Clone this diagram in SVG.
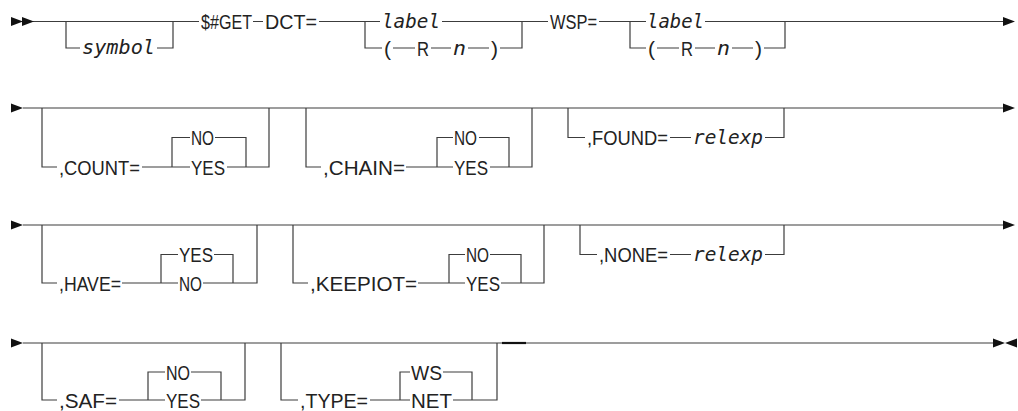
<svg xmlns="http://www.w3.org/2000/svg" xmlns:xlink="http://www.w3.org/1999/xlink" width="1018" height="411" viewBox="0 0 1018 411">
<style>
.ln{fill:none;stroke:#3c3c3c;stroke-width:1.2}
.thk{fill:none;stroke:#111;stroke-width:2.2}
.t{font-family:"Liberation Sans",Arial,sans-serif;font-size:20.5px;fill:#222}
.i{font-family:"DejaVu Sans Mono","Liberation Mono",monospace;font-style:italic;font-size:20px;fill:#222}
.ar{fill:#111}
</style>
<defs>
<polygon id="ra" points="0,-4.5 12,0 0,4.5"/>
<polygon id="la" points="12,-4.5 0,0 12,4.5"/>
</defs>
<rect width="1018" height="411" fill="#fff"/>
<g id="connectors">
<path class="ln" d="M33 21.5H199M253 21.5H263M319 21.5H380M442 21.5H548M599 21.5H646M705 21.5H1003"/>
<path class="ln" d="M66 21.5V48H80M157 48H173V21.5"/>
<path class="ln" d="M365 21.5V48H382M393 48H415M431 48H451M468 48H489M500 48H522V21.5"/>
<path class="ln" d="M630 21.5V48H646M657 48H679M695 48H715M732 48H753M764 48H785V21.5"/>
<path class="ln" d="M23 108H1003"/>
<path class="ln" d="M42 108V167H57M142 167H190M172 167V137.5H190M215 137.5H246V167M227 167H269V108"/>
<path class="ln" d="M306 108V167H321M406 167H453M437 167V137.5H453M479 137.5H509V167M490 167H532V108"/>
<path class="ln" d="M568 108V137.5H585M670 137.5H691M765 137.5H784V108"/>
<path class="ln" d="M23 225H1003"/>
<path class="ln" d="M42 225V283H57M122 283H178M161 283V254.5H178M214 254.5H233V283M203 283H257V225"/>
<path class="ln" d="M293 225V283H308M418 283H465M449 283V254.5H465M490 254.5H521V283M501 283H544V225"/>
<path class="ln" d="M580 225V254.5H597M670 254.5H691M765 254.5H784V225"/>
<path class="ln" d="M23 343H993"/>
<path class="ln" d="M42 343V400H57M119 400H165M148 400V372H165M191 372H221V400M201 400H245V343"/>
<path class="ln" d="M281 343V400H298M370 400H410M400 400V372H410M443 372H472V400M453 400H497V343"/>
<path class="thk" d="M502 343H526"/>
<use xlink:href="#ra" class="ar" x="11" y="21.5"/>
<use xlink:href="#ra" class="ar" x="22" y="21.5"/>
<use xlink:href="#ra" class="ar" x="1003" y="21.5"/>
<use xlink:href="#ra" class="ar" x="11" y="108"/>
<use xlink:href="#ra" class="ar" x="1003" y="108"/>
<use xlink:href="#ra" class="ar" x="11" y="225"/>
<use xlink:href="#ra" class="ar" x="1003" y="225"/>
<use xlink:href="#ra" class="ar" x="11" y="343"/>
<use xlink:href="#ra" class="ar" x="993" y="343"/>
<use xlink:href="#la" class="ar" x="1005" y="343"/>
</g>
<g id="symbol"><text class="i" x="82" y="54" textLength="73" lengthAdjust="spacingAndGlyphs">symbol</text></g>
<g id="get"><text class="t" x="201" y="28.8" textLength="51" lengthAdjust="spacingAndGlyphs">$#GET</text></g>
<g id="dct"><text class="t" x="265" y="28.8" textLength="52" lengthAdjust="spacingAndGlyphs">DCT=</text></g>
<g id="dct-label"><text class="i" x="382" y="28" textLength="58" lengthAdjust="spacingAndGlyphs">label</text></g>
<g id="dct-rn">
<text class="t" x="384" y="55.5" textLength="7" lengthAdjust="spacingAndGlyphs">(</text>
<text class="t" x="417" y="55.5" textLength="12" lengthAdjust="spacingAndGlyphs">R</text>
<text class="i" x="453" y="54.5" textLength="13" lengthAdjust="spacingAndGlyphs">n</text>
<text class="t" x="491" y="55.5" textLength="7" lengthAdjust="spacingAndGlyphs">)</text>
</g>
<g id="wsp"><text class="t" x="550" y="28.8" textLength="47" lengthAdjust="spacingAndGlyphs">WSP=</text></g>
<g id="wsp-label"><text class="i" x="647" y="28" textLength="57" lengthAdjust="spacingAndGlyphs">label</text></g>
<g id="wsp-rn">
<text class="t" x="648" y="55.5" textLength="7" lengthAdjust="spacingAndGlyphs">(</text>
<text class="t" x="681" y="55.5" textLength="12" lengthAdjust="spacingAndGlyphs">R</text>
<text class="i" x="717" y="54.5" textLength="13" lengthAdjust="spacingAndGlyphs">n</text>
<text class="t" x="755" y="55.5" textLength="7" lengthAdjust="spacingAndGlyphs">)</text>
</g>
<g id="count">
<text class="t" x="59" y="174.5" textLength="81" lengthAdjust="spacingAndGlyphs">,COUNT=</text>
<text class="t" x="191" y="145" textLength="23" lengthAdjust="spacingAndGlyphs">NO</text>
<text class="t" x="191" y="174.5" textLength="34" lengthAdjust="spacingAndGlyphs">YES</text>
</g>
<g id="chain">
<text class="t" x="323" y="174.5" textLength="82" lengthAdjust="spacingAndGlyphs">,CHAIN=</text>
<text class="t" x="454" y="145" textLength="23" lengthAdjust="spacingAndGlyphs">NO</text>
<text class="t" x="454" y="174.5" textLength="34" lengthAdjust="spacingAndGlyphs">YES</text>
</g>
<g id="found">
<text class="t" x="587" y="145" textLength="81" lengthAdjust="spacingAndGlyphs">,FOUND=</text>
<text class="i" x="693" y="144" textLength="70" lengthAdjust="spacingAndGlyphs">relexp</text>
</g>
<g id="have">
<text class="t" x="59" y="290.5" textLength="62" lengthAdjust="spacingAndGlyphs">,HAVE=</text>
<text class="t" x="179" y="262" textLength="34" lengthAdjust="spacingAndGlyphs">YES</text>
<text class="t" x="179" y="290.5" textLength="23" lengthAdjust="spacingAndGlyphs">NO</text>
</g>
<g id="keepiot">
<text class="t" x="310" y="290.5" textLength="107" lengthAdjust="spacingAndGlyphs">,KEEPIOT=</text>
<text class="t" x="466" y="262" textLength="23" lengthAdjust="spacingAndGlyphs">NO</text>
<text class="t" x="466" y="290.5" textLength="34" lengthAdjust="spacingAndGlyphs">YES</text>
</g>
<g id="none">
<text class="t" x="599" y="262" textLength="69" lengthAdjust="spacingAndGlyphs">,NONE=</text>
<text class="i" x="693" y="261" textLength="70" lengthAdjust="spacingAndGlyphs">relexp</text>
</g>
<g id="saf">
<text class="t" x="59" y="407.5" textLength="58" lengthAdjust="spacingAndGlyphs">,SAF=</text>
<text class="t" x="166" y="379.5" textLength="24" lengthAdjust="spacingAndGlyphs">NO</text>
<text class="t" x="166" y="407.5" textLength="34" lengthAdjust="spacingAndGlyphs">YES</text>
</g>
<g id="type">
<text class="t" x="300" y="407.5" textLength="68" lengthAdjust="spacingAndGlyphs">,TYPE=</text>
<text class="t" x="411" y="379.5" textLength="31" lengthAdjust="spacingAndGlyphs">WS</text>
<text class="t" x="411" y="407.5" textLength="41" lengthAdjust="spacingAndGlyphs">NET</text>
</g>
</svg>
